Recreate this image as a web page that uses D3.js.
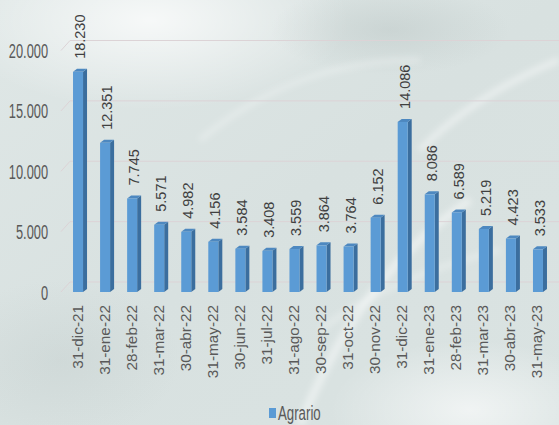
<!DOCTYPE html>
<html>
<head>
<meta charset="utf-8">
<script src="https://cdn.jsdelivr.net/npm/d3@7"></script>
<style>
  html, body { margin: 0; padding: 0; background: #dde5e4; }
  svg { display: block; }
</style>
</head>
<body>
<svg id="chart" width="559" height="425"></svg>
<script>
// Monthly balances, "Agrario" series
const categories = ["31-dic-21","31-ene-22","28-feb-22","31-mar-22","30-abr-22","31-may-22",
  "30-jun-22","31-jul-22","31-ago-22","30-sep-22","31-oct-22","30-nov-22",
  "31-dic-22","31-ene-23","28-feb-23","31-mar-23","30-abr-23","31-may-23"];
const values = [18230,12351,7745,5571,4982,4156,3584,3408,3559,3864,3764,6152,
  14086,8086,6589,5219,4423,3533];
const yTicks = [0, 5000, 10000, 15000, 20000];
const seriesName = "Agrario";

const W = 559, H = 425;
const svg = d3.select("#chart");
const defs = svg.append("defs");

// ---- backdrop: soft teal-grey wash with light streaks ----
const bg = defs.append("linearGradient").attr("id", "bgLin")
  .attr("x1", 0).attr("y1", 0).attr("x2", 1).attr("y2", 1);
bg.append("stop").attr("offset", 0).attr("stop-color", "#dfe7e6");
bg.append("stop").attr("offset", 0.5).attr("stop-color", "#d8e1e0");
bg.append("stop").attr("offset", 1).attr("stop-color", "#dae3e2");
svg.append("rect").attr("width", W).attr("height", H).attr("fill", "url(#bgLin)");

const glow = defs.append("radialGradient").attr("id", "glow");
glow.append("stop").attr("offset", 0).attr("stop-color", "#ffffff").attr("stop-opacity", 0.75);
glow.append("stop").attr("offset", 1).attr("stop-color", "#ffffff").attr("stop-opacity", 0);
svg.append("ellipse").attr("cx", 150).attr("cy", 20).attr("rx", 200).attr("ry", 90).attr("fill", "url(#glow)");
svg.append("ellipse").attr("cx", 470).attr("cy", 410).attr("rx", 140).attr("ry", 70).attr("fill", "url(#glow)").attr("opacity", 0.8);

const shade = defs.append("radialGradient").attr("id", "shade");
shade.append("stop").attr("offset", 0).attr("stop-color", "#b9c4c3").attr("stop-opacity", 0.45);
shade.append("stop").attr("offset", 1).attr("stop-color", "#b9c4c3").attr("stop-opacity", 0);
svg.append("ellipse").attr("cx", 390).attr("cy", 30).attr("rx", 120).attr("ry", 45).attr("fill", "url(#shade)");
svg.append("ellipse").attr("cx", 60).attr("cy", 360).attr("rx", 120).attr("ry", 80).attr("fill", "url(#shade)").attr("opacity", 0.6);

const blur = defs.append("filter").attr("id", "soft").attr("x", "-20%").attr("y", "-20%").attr("width", "140%").attr("height", "140%");
blur.append("feGaussianBlur").attr("stdDeviation", 3);
const streaks = svg.append("g").attr("filter", "url(#soft)").attr("fill", "none")
  .attr("stroke", "#ffffff").attr("stroke-opacity", 0.45);
streaks.append("path").attr("d", "M300,425 C330,350 380,260 470,200").attr("stroke-width", 8);
streaks.append("path").attr("d", "M420,150 C460,110 510,80 559,60").attr("stroke-width", 6);
streaks.append("path").attr("d", "M200,140 C260,90 330,60 420,60").attr("stroke-width", 5).attr("stroke-opacity", 0.3);
streaks.append("path").attr("d", "M320,330 C360,300 420,270 500,250").attr("stroke-width", 5).attr("stroke-opacity", 0.3);

// ---- scales ----
const depthX = 4, depthY = 3;       // bar extrusion
const wallX = 9, wallY = 10;        // back wall offset for gridlines

const x = d3.scaleBand().domain(categories).range([64.5, 551.5])
  .paddingInner(0.63).paddingOuter(0.315);
const y = d3.scaleLinear().domain([0, 20000]).range([292, 50.5]);

const es = d3.formatLocale({ decimal: ",", thousands: ".", grouping: [3], currency: ["", ""] });
const fmt = es.format(",d");

// ---- gridlines on the back wall ----
const grid = svg.append("g");
yTicks.forEach(t => {
  grid.append("path")
    .attr("d", `M${61},${y(t)} L${61 + wallX},${y(t) - wallY} L${W},${y(t) - wallY}`)
    .attr("fill", "none").attr("stroke", "#dcd3d6").attr("stroke-width", 1);
});

// ---- y axis labels (condensed) ----
const yAxis = svg.append("g");
yTicks.forEach(t => {
  yAxis.append("text")
    .attr("transform", `translate(48,${y(t) + 1}) scale(0.64,1)`)
    .attr("text-anchor", "end").attr("dominant-baseline", "central")
    .attr("font-family", "Liberation Sans, Arial, sans-serif").attr("font-size", 20)
    .attr("fill", "#595959").text(fmt(t));
});

// ---- 3D bars ----
const frontColor = "#5b9bd5", sideColor = "#3b6e9e", topColor = "#4d88c0";
const bars = svg.append("g");
categories.forEach((c, i) => {
  const v = values[i];
  const x0 = x(c), w = x.bandwidth(), y0 = y(0), y1 = y(v);
  const g = bars.append("g");
  g.append("path")
    .attr("d", `M${x0 + w},${y1} L${x0 + w + depthX},${y1 - depthY} L${x0 + w + depthX},${y0 - depthY} L${x0 + w},${y0} Z`)
    .attr("fill", sideColor);
  g.append("path")
    .attr("d", `M${x0},${y1} L${x0 + depthX},${y1 - depthY} L${x0 + w + depthX},${y1 - depthY} L${x0 + w},${y1} Z`)
    .attr("fill", topColor);
  g.append("rect").attr("x", x0).attr("y", y1).attr("width", w).attr("height", y0 - y1).attr("fill", frontColor);
});

// ---- value labels ----
const vLabels = svg.append("g");
categories.forEach((c, i) => {
  const cx = x(c) + x.bandwidth() / 2 + 2;
  vLabels.append("text")
    .attr("transform", `translate(${cx},${y(values[i]) - 13}) rotate(-90)`)
    .attr("dominant-baseline", "central").attr("text-anchor", "start")
    .attr("font-family", "Liberation Sans, Arial, sans-serif").attr("font-size", 14.5)
    .attr("fill", "#404040").text(fmt(values[i]));
});

// ---- category labels ----
const cLabels = svg.append("g");
categories.forEach(c => {
  const cx = x(c) + x.bandwidth() / 2;
  cLabels.append("text")
    .attr("transform", `translate(${cx - 1},305) rotate(-90)`)
    .attr("dominant-baseline", "central").attr("text-anchor", "end")
    .attr("font-family", "Liberation Sans, Arial, sans-serif").attr("font-size", 15.3)
    .attr("fill", "#595959").text(c);
});

// ---- legend ----
const legend = svg.append("g");
legend.append("rect").attr("x", 269).attr("y", 408).attr("width", 7).attr("height", 10).attr("fill", frontColor);
legend.append("text")
  .attr("transform", "translate(278,414) scale(0.68,1)")
  .attr("dominant-baseline", "central")
  .attr("font-family", "Liberation Sans, Arial, sans-serif").attr("font-size", 19.5)
  .attr("fill", "#595959").text(seriesName);
</script>
</body>
</html>
